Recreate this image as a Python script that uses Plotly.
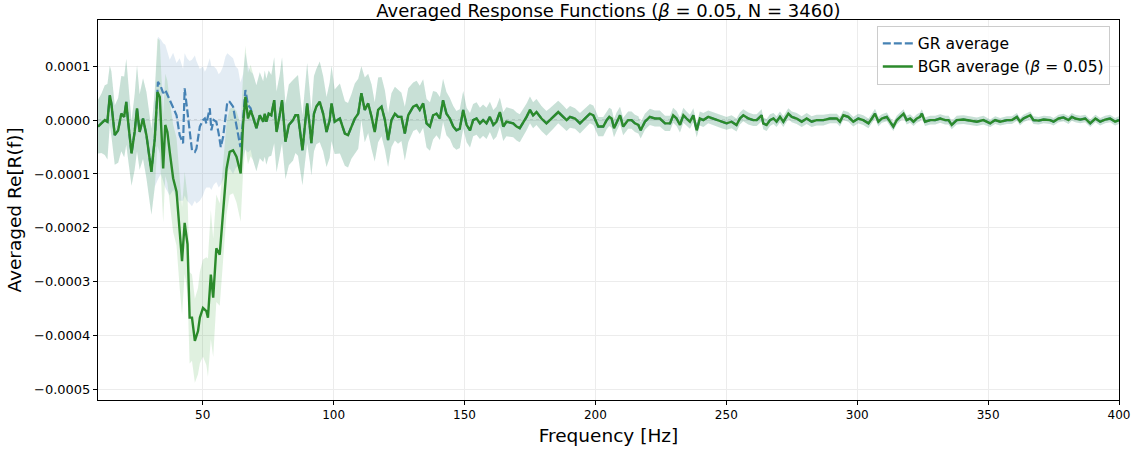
import plotly.graph_objects as go

# Values are stored in units of 1e-6
SCALE = 1e-6

freq_hz = [
    10.0, 11.3, 12.6, 13.6, 14.5, 15.1, 16.4, 17.7, 18.9, 20.0,
    20.8, 21.5, 22.8, 24.0, 24.9, 25.9, 27.2, 28.5, 30.4, 31.7,
    32.7, 33.6, 34.9, 35.7, 36.5, 37.4, 38.7, 40.0, 41.2, 42.1,
    43.1, 44.2, 45.0, 45.9, 47.0, 48.2, 48.9, 50.1, 51.4, 52.0,
    53.1, 54.0, 55.2, 56.5, 57.8, 59.1, 60.3, 61.6, 62.9, 64.5,
    65.4, 66.3, 67.3, 68.3, 69.2, 70.5, 71.8, 73.1, 73.7, 74.3,
    75.2, 76.2, 77.3, 78.2, 79.4, 80.3, 81.6, 82.9, 84.5, 85.4,
    86.4, 87.1, 88.1, 89.0, 89.9, 90.9, 91.5, 92.5, 93.4, 94.7,
    96.0, 97.3, 98.5, 99.2, 100.4, 102.4, 104.3, 105.5, 106.8, 108.1,
    109.4, 110.6, 111.9, 113.2, 114.5, 115.7, 117.0, 118.3, 119.6, 120.8,
    122.1, 123.4, 124.6, 125.9, 127.2, 128.5, 130.4, 131.7, 132.9, 134.2,
    135.5, 136.8, 138.0, 139.3, 140.6, 141.8, 143.1, 144.4, 145.7, 146.9,
    148.2, 149.5, 150.8, 152.1, 153.3, 154.6, 155.9, 157.1, 158.4, 159.7,
    161.0, 162.2, 163.5, 164.8, 166.0, 168.6, 169.9, 171.1, 173.7, 175.0,
    176.2, 177.5, 179.4, 181.3, 182.6, 183.9, 185.8, 187.7, 189.0, 190.3,
    192.2, 194.1, 196.0, 197.9, 199.2, 201.1, 203.0, 204.3, 205.3, 206.2,
    207.1, 208.1, 209.4, 210.6, 212.5, 213.8, 215.1, 216.4, 217.3, 218.9,
    220.8, 222.7, 224.6, 226.6, 228.5, 229.7, 231.0, 232.3, 233.6, 234.8,
    236.1, 237.4, 238.7, 239.9, 241.2, 243.1, 245.0, 246.3, 248.2, 250.1,
    252.0, 253.9, 255.2, 256.5, 258.4, 260.3, 261.6, 263.5, 264.1, 265.4,
    266.7, 268.0, 269.2, 270.5, 271.8, 273.7, 275.0, 276.9, 278.8, 280.7,
    282.6, 284.5, 287.1, 289.6, 292.2, 293.4, 294.7, 296.6, 298.5, 300.4,
    302.3, 304.3, 305.6, 306.8, 308.1, 309.4, 311.3, 312.6, 313.8, 315.1,
    317.0, 317.7, 318.9, 320.2, 321.5, 322.8, 324.0, 324.7, 325.9, 327.9,
    329.8, 331.7, 333.6, 334.9, 336.1, 338.0, 340.6, 343.1, 345.7, 348.2,
    350.8, 352.7, 354.6, 357.2, 359.1, 361.0, 362.2, 363.5, 364.8, 366.1,
    367.3, 369.3, 371.2, 373.7, 375.0, 376.9, 378.8, 380.7, 382.0, 383.3,
    385.2, 387.1, 389.0, 391.0, 392.8, 394.7, 396.6, 398.5, 400.0,
]

bgr_mean = [
    -12, -6, 0, -3, 46, 31, -28, -19, 12, 6,
    34, -3, -62, -22, 22, -22, 3, -28, -96, -34,
    52, 43, -90, -9, -22, -59, -108, -133, -207, -262,
    -191, -231, -367, -367, -410, -392, -367, -349, -355, -367,
    -287, -330, -238, -250, -170, -90, -59, -56, -68, -99,
    -9, 43, 3, 18, 6, -15, 9, -3, 12, -3,
    12, 9, 37, -22, 9, 37, -40, -9, 0, 9,
    9, -19, -56, -12, 31, -12, -43, 12, 25, 34,
    12, -22, 0, 31, -3, 3, -25, -28, -12, 3,
    12, 50, 19, 31, 6, -22, 19, 25, 0, -37,
    0, 12, 6, 6, -25, 9, 25, 28, 19, 31,
    -6, -12, 9, 12, 3, 37, 12, 3, -12, -19,
    -16, 19, -9, -19, 0, 3, -6, 0, -6, 6,
    -9, -3, 15, -12, -3, -6, -12, -15, 6, 19,
    9, 15, 3, -6, 0, 6, 15, 6, 0, 6,
    3, -6, 3, 12, 9, -12, -12, 0, 6, 3,
    -15, -3, 9, -12, 0, 0, -6, -9, -19, -3,
    6, 3, 3, -6, -6, 9, 3, -9, 9, 3,
    -3, 9, -19, 3, 0, 6, 3, 0, -3, -6,
    -3, -9, 3, 9, 3, 0, 0, 9, -6, -9,
    0, 3, -3, 6, -3, 12, 6, 3, -3, 3,
    -3, 0, 0, 3, 3, -3, 9, 6, -3, 3,
    0, -6, 3, 12, -3, 3, 6, -3, -12, 0,
    9, 12, 0, 3, -3, 3, 6, 12, -3, 0,
    0, 3, 0, 0, -9, 0, 1, -1, -3, 0,
    -6, 0, -3, 0, 0, 6, -3, 3, 6, 9,
    0, -1, 1, 0, -3, 3, 5, 0, 6, 3,
    1, 3, -6, 3, -3, 1, 3, -3, 0,
]

bgr_std = [
    50, 55, 65, 70, 55, 60, 55, 60, 70, 75,
    80, 70, 60, 70, 80, 70, 75, 80, 80, 90,
    100, 105, 100, 95, 95, 95, 100, 100, 105, 100,
    95, 90, 85, 80, 78, 80, 85, 90, 100, 110,
    120, 110, 100, 95, 90, 85, 80, 80, 85, 90,
    90, 95, 85, 85, 80, 80, 80, 75, 80, 80,
    80, 75, 80, 75, 75, 80, 70, 75, 75, 70,
    75, 70, 65, 70, 75, 65, 60, 70, 70, 75,
    70, 65, 70, 70, 60, 65, 60, 60, 60, 65,
    65, 50, 60, 55, 60, 55, 60, 55, 55, 50,
    50, 50, 50, 45, 50, 50, 45, 45, 45, 45,
    45, 45, 45, 40, 40, 40, 40, 38, 38, 36,
    36, 35, 32, 32, 30, 30, 29, 29, 29, 28,
    28, 28, 27, 27, 27, 26, 26, 26, 25, 25,
    24, 24, 23, 23, 22, 22, 21, 21, 20, 20,
    19, 19, 19, 18, 18, 18, 18, 17, 17, 17,
    17, 17, 16, 16, 16, 16, 16, 16, 15, 15,
    15, 15, 15, 14, 14, 14, 14, 14, 14, 13,
    13, 13, 13, 13, 13, 12, 12, 12, 12, 12,
    12, 12, 11, 11, 11, 11, 11, 11, 11, 11,
    11, 10, 10, 10, 10, 10, 10, 10, 10, 10,
    10, 10, 10, 9, 9, 9, 9, 9, 9, 9,
    9, 9, 9, 9, 9, 8, 8, 8, 8, 8,
    8, 8, 8, 8, 8, 8, 8, 8, 8, 8,
    8, 8, 8, 8, 8, 8, 8, 8, 8, 8,
    7, 7, 7, 7, 7, 7, 7, 7, 7, 7,
    7, 7, 7, 7, 7, 7, 7, 7, 7, 7,
    7, 7, 7, 7, 7, 7, 7, 7, 7,
]

# GR differs from BGR only inside the low-frequency window
gr_freq = [
    31.7, 32.9, 34.0, 34.9, 35.7, 37.4, 38.7, 40.0, 41.2, 42.5,
    43.1, 44.0, 45.0, 45.9, 47.0, 47.6, 48.9, 50.1, 50.8, 51.4,
    52.7, 53.3, 54.2, 55.2, 56.1, 56.9, 57.8, 58.7, 59.4, 60.3,
    61.6, 62.5, 63.5, 64.4, 65.4, 66.3, 67.3, 68.3,
]
gr_mean = [
    -34, 71, 62, 50, 56, 37, 22, 9, -28, -43,
    59, 22, -25, -56, -59, -53, -12, 0, 3, -6,
    22, -19, 0, -3, -25, -50, -31, 6, 34, 34,
    25, 0, -25, -50, 0, 56, 28, 22,
]
gr_lo = [
    -124, -110, -100, -115, -125, -140, -130, -145, -150, -150,
    -140, -150, -155, -160, -150, -155, -150, -140, -130, -125,
    -125, -130, -120, -115, -125, -120, -110, -100, -95, -90,
    -100, -90, -85, -80, -70, -55, -60, -55,
]
gr_hi = [
    56, 155, 150, 143, 140, 112, 125, 106, 115, 95,
    124, 115, 110, 112, 120, 110, 95, 100, 90, 95,
    115, 100, 100, 95, 85, 90, 100, 118, 124, 120,
    115, 100, 95, 70, 85, 125, 100, 90,
]

x_ticks = [50, 100, 150, 200, 250, 300, 350, 400]
y_ticks = [-0.0005, -0.0004, -0.0003, -0.0002, -0.0001, 0.0, 0.0001]
y_tick_text = ["\u22120.0005", "\u22120.0004", "\u22120.0003", "\u22120.0002",
               "\u22120.0001", "0.0000", "0.0001"]

# ---- derived series ----
bgr_y = [v * SCALE for v in bgr_mean]
bgr_lo_y = [(m - s) * SCALE for m, s in zip(bgr_mean, bgr_std)]
bgr_hi_y = [(m + s) * SCALE for m, s in zip(bgr_mean, bgr_std)]

below = [i for i, f in enumerate(freq_hz) if f < gr_freq[0]]
above = [i for i, f in enumerate(freq_hz) if f > gr_freq[-1]]
gr_x = [freq_hz[i] for i in below] + gr_freq + [freq_hz[i] for i in above]
gr_y = ([bgr_y[i] for i in below] + [v * SCALE for v in gr_mean]
        + [bgr_y[i] for i in above])
gr_lo_y = ([bgr_lo_y[i] for i in below] + [v * SCALE for v in gr_lo]
           + [bgr_lo_y[i] for i in above])
gr_hi_y = ([bgr_hi_y[i] for i in below] + [v * SCALE for v in gr_hi]
           + [bgr_hi_y[i] for i in above])

FONT = "DejaVu Sans"
GR_COLOR = "#4682b4"
BGR_COLOR = "#2b8a2b"

fig = go.Figure()

fig.add_trace(go.Scatter(
    x=gr_x + gr_x[::-1], y=gr_hi_y + gr_lo_y[::-1],
    fill="toself", fillcolor="rgba(70,130,180,0.15)",
    line=dict(width=0), mode="lines", showlegend=False, hoverinfo="skip"))
fig.add_trace(go.Scatter(
    x=freq_hz + freq_hz[::-1], y=bgr_hi_y + bgr_lo_y[::-1],
    fill="toself", fillcolor="rgba(44,160,44,0.15)",
    line=dict(width=0), mode="lines", showlegend=False, hoverinfo="skip"))

fig.add_trace(go.Scatter(
    x=gr_x, y=gr_y, mode="lines", name="GR average",
    line=dict(color=GR_COLOR, width=2.2, dash="8px,3px")))
fig.add_trace(go.Scatter(
    x=freq_hz, y=bgr_y, mode="lines",
    name="BGR average (<i>\u03b2</i> = 0.05)",
    line=dict(color=BGR_COLOR, width=2.4)))

# dotted reference at zero
fig.add_shape(type="line", xref="paper", x0=0, x1=1, yref="y", y0=0, y1=0,
              line=dict(color="rgba(128,128,128,0.6)", width=1, dash="dot"),
              layer="below")

axis_common = dict(
    showgrid=True, gridcolor="#ececec", gridwidth=1,
    ticks="outside", ticklen=4, tickwidth=1, tickcolor="black",
    showline=True, linecolor="black", linewidth=1, mirror=True,
    zeroline=False,
)

fig.update_layout(
    width=1142, height=454,
    margin=dict(l=98, r=23, t=20, b=54),
    paper_bgcolor="white", plot_bgcolor="white",
    font=dict(family=FONT, color="black"),
    title=dict(text="Averaged Response Functions (<i>\u03b2</i> = 0.05, N = 3460)",
               font=dict(family=FONT, size=18, color="black"),
               x=0.5, xref="paper", xanchor="center",
               y=1 - 11 / 454, yref="container", yanchor="middle"),
    xaxis=dict(range=[10, 400], tickvals=x_ticks,
               tickfont=dict(family=FONT, size=12, color="black"),
               title=dict(text="Frequency [Hz]", standoff=7,
                          font=dict(family=FONT, size=18.5, color="black")),
               **axis_common),
    yaxis=dict(range=[-0.00052, 0.000186], tickvals=y_ticks, ticktext=y_tick_text,
               tickfont=dict(family=FONT, size=13, color="black"),
               title=dict(text="Averaged Re[R(f)]", standoff=7,
                          font=dict(family=FONT, size=18.5, color="black")),
               **axis_common),
    legend=dict(x=0.991, y=0.985, xanchor="right", yanchor="top",
                bgcolor="rgba(255,255,255,0.85)", bordercolor="#cccccc",
                borderwidth=1, font=dict(family=FONT, size=15.5, color="black"),
                tracegroupgap=0),
    showlegend=True,
)

fig.write_html("out.html")
